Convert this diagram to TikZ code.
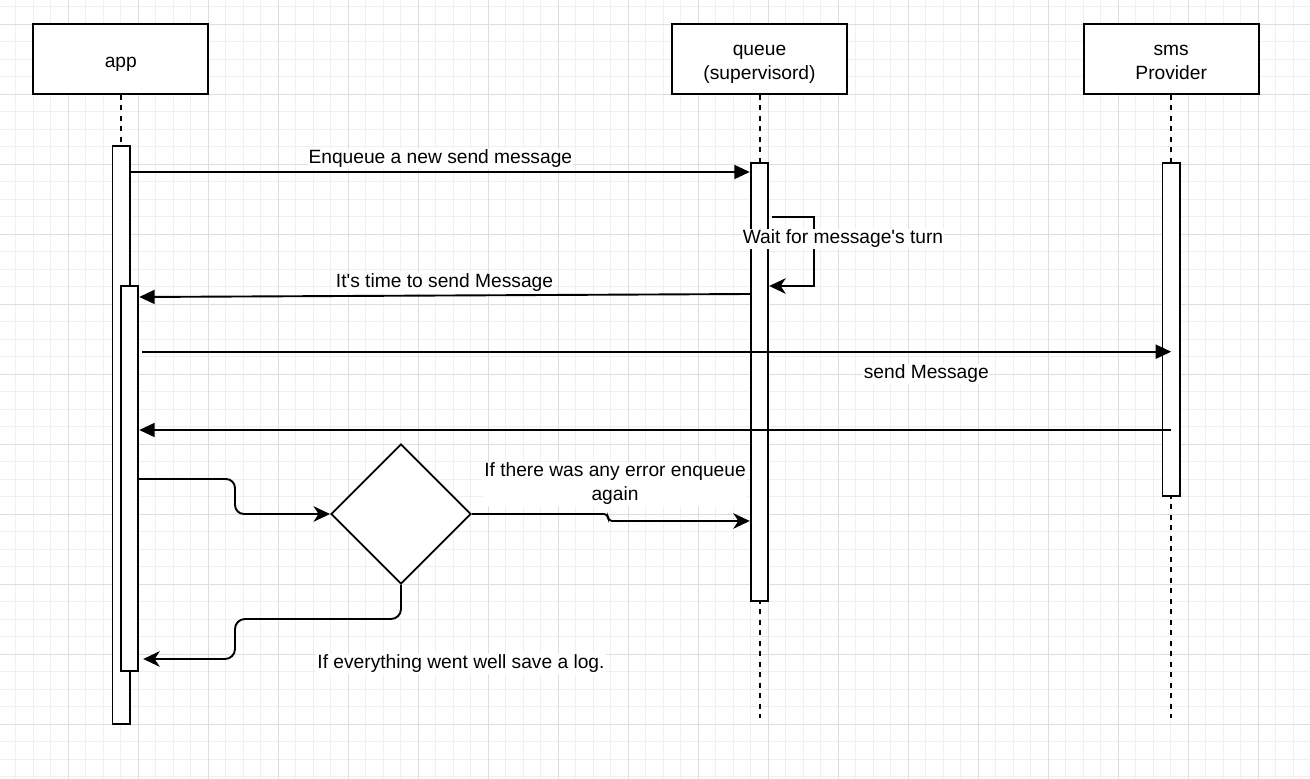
\documentclass[tikz,border=0pt]{standalone}
\usepackage{fontspec}
\setmainfont{Liberation Sans}[Ligatures=TeXOff]
\usetikzlibrary{arrows.meta,shapes.geometric,calc}
\definecolor{gminor}{RGB}{240,240,240}
\definecolor{gmajor}{RGB}{222,222,222}
\tikzset{
  headbox/.style={draw, fill=white, minimum width=175pt, minimum height=70pt, inner sep=0pt},
  headtext/.style={align=center, inner sep=0pt},
  actbox/.style={draw, fill=white, minimum width=17.5pt, inner sep=0pt},
  lifeline/.style={dash pattern=on 5pt off 5.5pt},
  msg/.style={-{Triangle[length=15.5pt,width=14pt]}},
  flow/.style={-{Stealth[length=16.5pt,width=15.5pt,inset=5pt]}},
  lbl/.style={fill=white, inner sep=1pt, align=center}
}
\begin{document}
\begin{tikzpicture}[x=1pt,y=-1pt, line width=1.9pt, font=\fontsize{19.2}{24}\selectfont]
\useasboundingbox (0,0) rectangle (1310,779);
\fill[white] (0,0) rectangle (1310,779);
% grid
\foreach \i in {0,...,74} {\pgfmathsetmacro\gx{15.8+17.5*\i}\draw[gminor, line width=1pt] (\gx,0) -- (\gx,779);}
\foreach \j in {0,...,44} {\pgfmathsetmacro\gy{6.5+17.5*\j}\draw[gminor, line width=1pt] (0,\gy) -- (1310,\gy);}
\foreach \i in {0,...,18} {\pgfmathsetmacro\gx{-1.7+70*\i}\draw[gmajor, line width=1pt] (\gx,0) -- (\gx,779);}
\foreach \j in {0,...,10} {\pgfmathsetmacro\gy{24+70*\j}\draw[gmajor, line width=1pt] (0,\gy) -- (1310,\gy);}

% headers
\node[headbox] (app) at (120.8,58.7) {};
\node[headbox] (queue) at (759.5,58.7) {};
\node[headbox] (sms) at (1171.2,58.7) {};
\node[headtext] (apptxt) at ($(app.center)+(0,5.5)$) {app};
\node[headtext] (queuetxt) at ($(queue.center)+(0,5.5)$) {queue\\(supervisord)};
\node[headtext] (smstxt) at ($(sms.center)+(0,4)$) {sms\\Provider};

% lifelines
\coordinate (append) at (121,718);
\coordinate (queueend) at (760,718);
\coordinate (smsend) at (1171,718);
\draw[lifeline] (app.south -| append) -- (append);
\draw[lifeline] (queue.south -| queueend) -- (queueend);
\draw[lifeline] (sms.south -| smsend) -- (smsend);

% activations
\node[actbox, minimum height=578pt] (act1) at (121.2,435) {};
\node[actbox, minimum height=385pt] (act2) at (129.5,478.5) {};
\node[actbox, minimum height=437.7pt] (actq) at (759.5,382.2) {};
\node[actbox, minimum height=332.7pt] (acts) at (1171.2,329.7) {};

% messages
\draw[msg] (act1.east |- 0,172) -- node[lbl, yshift=13pt] (l1) {Enqueue a new send message} (actq.west |- 0,172);

\coordinate (lp1) at (771.7,216.7);
\draw[flow] (lp1) -- (814.3,216.7) -- (814.3,286) -- (actq.east |- 0,286);
\node[lbl] (l2) at (843,239) {Wait for message's turn};

\draw[msg] (actq.west |- 0,294) -- node[lbl, yshift=12.5pt] (l3) {It's time to send Message} (act2.east |- 0,297);

\draw[msg] ($(act2.east |- 0,351.7)+(3,0)$) -- node[lbl, pos=0.762, yshift=-22.3pt] (l4) {send Message} (acts.center |- 0,351.7);

\draw[msg] (acts.center |- 0,430) -- (act2.east |- 0,430);

% decision
\node[draw, diamond, fill=white, minimum width=140pt, minimum height=140pt, inner sep=0pt] (dia) at (401,514) {};

\draw[flow, rounded corners=9pt] (act2.east |- 0,479) -- (235,479) -- (235,514) -- (dia.west);
\draw[flow, rounded corners=4pt] (dia.east) -- (608,514) -- (608,521) -- (actq.west |- 0,521);
\node[lbl] (l5) at (615,484) {If there was any error enqueue\\again};

\draw[flow, rounded corners=10pt] (dia.south) -- (401,619) -- (235,619) -- (235,659) -- ($(act2.east |- 0,659)+(4,0)$);
\node[lbl] (l6) at (461,664) {If everything went well save a log.};
\end{tikzpicture}
\end{document}
